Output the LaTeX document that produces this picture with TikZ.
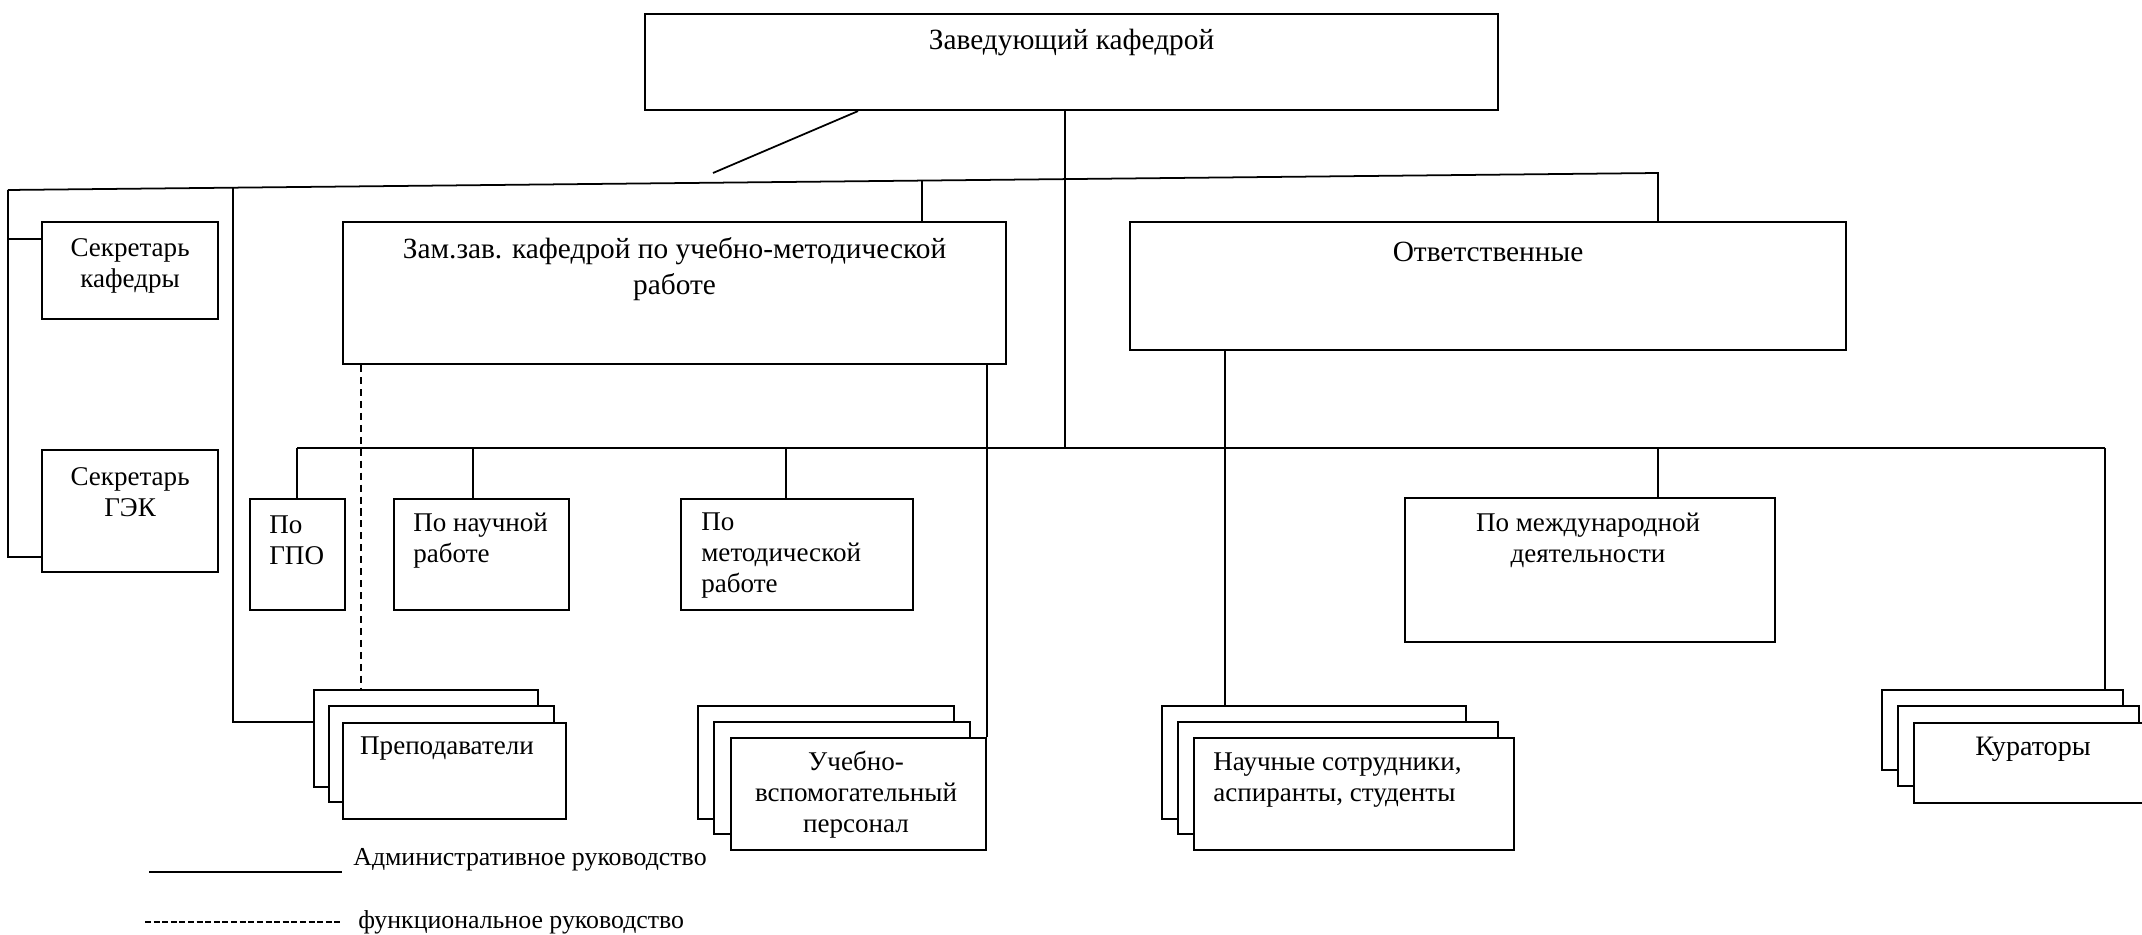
\documentclass[tikz,border=0pt]{standalone}
\usepackage{fontspec}
\setmainfont{Liberation Serif}
\usetikzlibrary{positioning, calc}

\tikzset{
  box/.style 2 args={draw, line width=1.2pt, inner sep=0pt, anchor=north west, fill=white,
    minimum width=#1*0.02cm, minimum height=#2*0.02cm},
  lbl/.style={inner sep=0pt, align=center, font=\fontsize{15.4}{17.7}\selectfont},
  biglbl/.style={lbl, font=\fontsize{16.7}{20.5}\selectfont},
  lbll/.style={lbl, align=left, anchor=west},
  leglbl/.style={lbll, font=\fontsize{14.7}{17}\selectfont},
  wire/.style={line width=1pt},
  func/.style={wire, dash pattern=on 4pt off 2.8pt},
}

\begin{document}
\begin{tikzpicture}[x=0.02cm, y=-0.02cm]
    \useasboundingbox (0,0) rectangle (2142,935);

    % Head
    \node[box={853}{96}] (head) at (644,13) {};
    \node[biglbl] (headtxt) at ($(head.north)+(0,29)$) {Заведующий кафедрой};

    % Second level
    \node[box={663}{142}] (zam) at (342,221) {};
    \node[biglbl] (zamtxt) at ($(zam.north)+(0,48)$) {Зам.зав. кафедрой по учебно-методической\\работе};
    \node[box={716}{128}] (otv) at (1129,221) {};
    \node[biglbl] (otvtxt) at ($(otv.north)+(0,31)$) {Ответственные};

    % Secretaries
    \node[box={176}{97}] (sk) at (41,221) {};
    \node[lbl] (sktxt) at ($(sk.north)+(0,45)$) {Секретарь\\кафедры};
    \node[box={176}{122}] (sg) at (41,449) {};
    \node[lbl] (sgtxt) at ($(sg.north)+(0,43)$) {Секретарь\\ГЭК};

    % Responsible persons
    \node[box={95}{111}] (gpo) at (249,498) {};
    \node[lbll] (gpotxt) at ($(gpo.north west)+(20,42.5)$) {По\\ГПО};
    \node[box={175}{111}] (nauch) at (393,498) {};
    \node[lbll] (nauchtxt) at ($(nauch.north west)+(20,42.5)$) {По научной\\работе};
    \node[box={232}{111}] (metod) at (680,498) {};
    \node[lbll] (metodtxt) at ($(metod.north west)+(21,57.5)$) {По\\методической\\работе};
    \node[box={370}{144}] (mezhd) at (1404,497) {};
    \node[lbl] (mezhdtxt) at ($(mezhd.north west)+(184,43.5)$) {По международной\\деятельности};

    % Staff stacks
    \node[box={224}{97}] (pr3) at (313,689) {};
    \node[box={225}{96}] (pr2) at (328,705) {};
    \node[box={223}{96}] (pr1) at (342,722) {};
    \node[lbl] (prtxt) at ($(pr1.north west)+(105,27)$) {Преподаватели};

    \node[box={256}{113}] (ub3) at (697,705) {};
    \node[box={256}{112}] (ub2) at (713,721) {};
    \node[box={255}{112}] (ub1) at (730,737) {};
    \node[lbl] (ubtxt) at ($(ub1.north west)+(126,58)$) {Учебно-\\вспомогательный\\персонал};

    \node[box={304}{113}] (ns3) at (1161,705) {};
    \node[box={320}{112}] (ns2) at (1177,721) {};
    \node[box={320}{112}] (ns1) at (1193,737) {};
    \node[lbll] (nstxt) at ($(ns1.north west)+(20,43)$) {Научные сотрудники,\\аспиранты, студенты};

    \node[box={241}{80}] (kur3) at (1881,689) {};
    \node[box={241}{80}] (kur2) at (1897,705) {};
    \node[box={241}{80}] (kur1) at (1913,722) {};
    \node[lbl, font=\fontsize{16}{18}\selectfont] (kurtxt) at ($(kur1.north west)+(120,27)$) {Кураторы};

    % Upper wires
    \coordinate (tl) at (8,190);
    \coordinate (tr) at (1658,173);
    \coordinate (diag) at (713,173);
    \draw[wire] ($(head.south west)+(214,0)$) -- (diag);
    \draw[wire] (tl) -- (tr) -- (tr |- otv.north);
    \draw[wire] ($(tl)!0.5539!(tr)$) coordinate (zt) -- (zt |- zam.north);

    % Secretaries wires
    \coordinate (sk2) at ($(sk.north west)+(0,18)$);
    \coordinate (sg2) at ($(sg.north west)+(0,108)$);
    \draw[wire] (tl) -- (tl |- sg2) -- (sg2);
    \draw[wire] (sk2 -| tl) -- (sk2);

    % Teachers
    \draw[wire] ($(tl)!0.1364!(tr)$) |- ($(pr3.north west)+(0,33)$);
    \draw[func] ($(zam.south west)+(19,0)$) -- ($(pr3.north west)+(48,0)$);
    \draw[wire] (ub1.north east |- zam.south) -- (ub1.north east);

    % Bus
    \coordinate (busL) at (297,448);
    \coordinate (busR) at (2105,448);
    \draw[wire] (busL) -- (busR);
    \draw[wire] ($(head.south west)+(421,0)$) coordinate (hx) -- (hx |- busL);
    \draw[wire] (busL) -- (busL |- gpo.north);
    \draw[wire] ($(nauch.north west)+(80,0)$) coordinate (n1) -- (n1 |- busL);
    \draw[wire] ($(metod.north west)+(106,0)$) coordinate (m1) -- (m1 |- busL);
    \draw[wire] ($(mezhd.north west)+(254,0)$) coordinate (i1) -- (i1 |- busL);
    \draw[wire] (busR) -- (busR |- kur3.north);
    \draw[wire] ($(otv.south west)+(96,0)$) -- ($(ns3.north west)+(64,0)$);

    % Legend
    \node[leglbl] (lega) at (353,860) {Административное руководство};
    \node[leglbl] (legf) at (358,922) {функциональное руководство};
    \coordinate (la) at (149,872);
    \coordinate (lf) at (145,922);
    \draw[wire] (la) -- ($(la -| lega.west)+(-11,0)$);
    \draw[wire, dash pattern=on 3.4pt off 1.5pt] (lf) -- ($(lf -| legf.west)+(-16,0)$);
\end{tikzpicture}
\end{document}
